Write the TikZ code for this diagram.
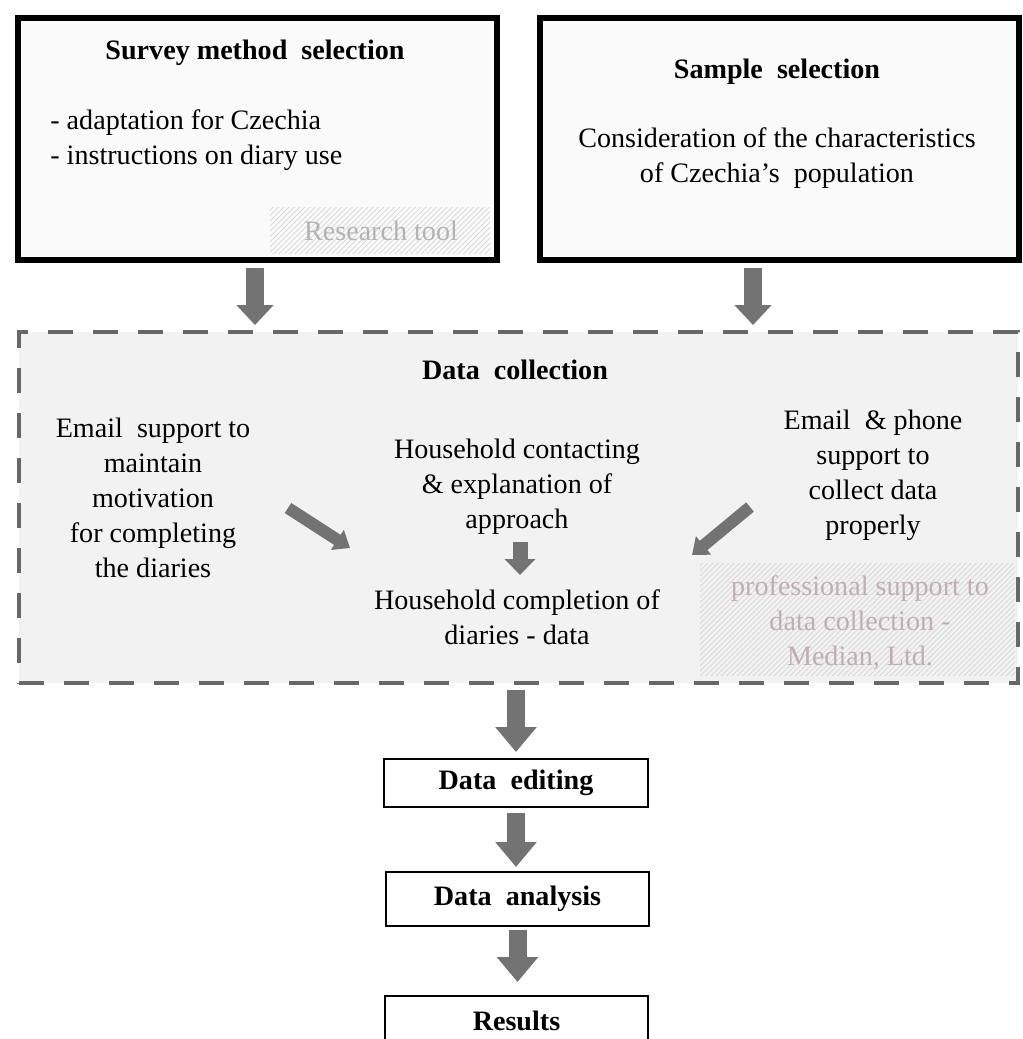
\documentclass[tikz,border=0pt]{standalone}
\usepackage{fontspec}
\setmainfont{Liberation Serif}
\usetikzlibrary{arrows.meta,patterns,calc}
\definecolor{agray}{HTML}{737373}
\definecolor{dgray}{HTML}{686868}
\definecolor{dcfill}{HTML}{F2F2F2}
\definecolor{boxfill}{HTML}{FAFAFA}
\definecolor{rtcol}{HTML}{B3B3B3}
\definecolor{pfcol}{HTML}{C0AEB3}
\begin{document}
\begin{tikzpicture}[x=0.02cm,y=-0.02cm,
  bigbox/.style={draw=black, line width=0.12cm, fill=boxfill, inner sep=0pt,
    minimum width=9.58cm, minimum height=4.84cm},
  smallbox/.style={draw=black, line width=0.04cm, fill=white, inner sep=0pt,
    font=\fontsize{16}{19.9}\selectfont\bfseries},
  dashbox/.style={draw=dgray, line width=0.08cm, fill=dcfill, inner sep=0pt,
    dash pattern=on 0.5cm off 0.4cm},
  txt/.style={align=center, inner sep=0pt, font=\fontsize{16}{19.9}\selectfont},
  ttl/.style={txt, font=\fontsize{16}{19.9}\selectfont\bfseries},
  hatch/.style={pattern=north east lines, pattern color=gray!32},
  barrow/.style={draw=agray, line width=0.36cm, -{Triangle[width=0.72cm,length=0.4cm]}},
  bbarrow/.style={draw=agray, line width=0.36cm, -{Triangle[width=0.8cm,length=0.5cm]}},
  darrow/.style={draw=agray, line width=0.24cm, -{Triangle[width=0.46cm,length=0.3cm]}},
  carrow/.style={draw=agray, line width=0.3cm, -{Triangle[width=0.6cm,length=0.32cm]}}
]
\useasboundingbox (0,0) rectangle (1023,1039);
\clip (0,0) rectangle (1023,1039);
\fill[white] (0,0) rectangle (1023,1039);

% top boxes
\node[bigbox] (box1) at (257.5,139) {};
\node[bigbox] (box2) at (779.5,139) {};
\path[hatch] (270,207) rectangle (490,253);
\node[ttl] (t1) at (255,53) {Survey method\ \ selection};
\node[txt, align=left, anchor=west] (t1b) at (50,140) {- adaptation for Czechia\\- instructions on diary use};
\node[txt, text=rtcol] (rt) at (381,231) {Research tool};
\node[ttl] (t2) at (777,72) {Sample\ \ selection};
\node[txt] (t2b) at (777,158) {Consideration of the characteristics\\of Czechia’s\ \ population};

% data collection box
\node[dashbox, minimum width=19.98cm, minimum height=7.02cm] (dc) at (518.5,507.5) {};
\path[hatch] (700,563) rectangle (1015,675);
\node[ttl] (dct) at (515,370) {Data\ \ collection};
\node[txt] (em1) at (153,498) {Email\ \ support to\\maintain\\motivation\\for completing\\the diaries};
\node[txt] (hh1) at (517,487) {Household contacting\\\& explanation of\\approach};
\node[txt] (hh2) at (517,617) {Household completion of\\diaries - data};
\node[txt] (em2) at (873,475) {Email\ \ \& phone\\support to\\collect data\\properly};
\node[txt, text=pfcol] (pf) at (860,623) {professional support to\\data collection -\\Median, Ltd.};

% bottom boxes
\node[smallbox, minimum width=5.28cm, minimum height=0.96cm] (de) at (516,783) {Data\ \ editing};
\node[smallbox, minimum width=5.26cm, minimum height=1.08cm] (da) at (517.5,899) {Data\ \ analysis};
\node[smallbox, minimum width=5.26cm, minimum height=1.0cm] (res) at (516.5,1021) {Results};

% arrows
\coordinate (c1) at (255,0);
\coordinate (c2) at (753,0);
\draw[barrow, shorten <=0.1cm, shorten >=0.1cm] (box1.south -| c1) -- (dc.north -| c1);
\draw[barrow, shorten <=0.1cm, shorten >=0.1cm] (box2.south -| c2) -- (dc.north -| c2);
\coordinate (l1) at (288,508);
\coordinate (l2) at (350,548);
\coordinate (r1) at (750,507);
\coordinate (r2) at (692,555);
\draw[darrow] (l1) -- (l2);
\draw[darrow] (r1) -- (r2);
\coordinate (ca) at (520,542);
\coordinate (cb) at (520,575);
\draw[carrow] (ca) -- (cb);
\draw[bbarrow, shorten <=0.1cm, shorten >=0.12cm] (de.north |- dc.south) -- (de.north);
\draw[bbarrow, shorten <=0.1cm, shorten >=0.08cm] (de.south) -- (da.north -| de.south);
\draw[bbarrow, shorten <=0.06cm, shorten >=0.26cm] (da.south) -- (res.north -| da.south);
\end{tikzpicture}
\end{document}
